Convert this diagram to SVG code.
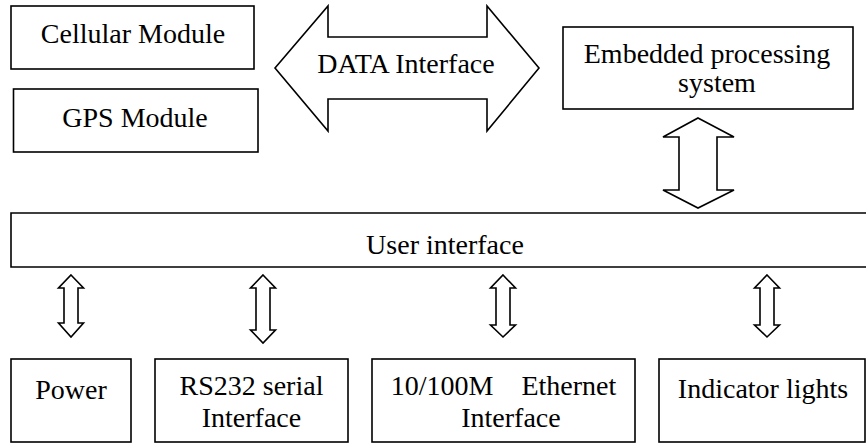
<svg xmlns="http://www.w3.org/2000/svg" width="866" height="443" viewBox="0 0 866 443">
<style>
.box{fill:#fff;stroke:#000;stroke-width:1.6}
.arr{fill:#fff;stroke:#000;stroke-width:1.6;stroke-linejoin:miter}
.t{font-family:'Liberation Serif','Times New Roman','DejaVu Serif',serif;font-size:28px;fill:#000;text-anchor:middle}
</style>
<rect width="866" height="443" fill="#fff"/>
<g id="cellular"><rect class="box" x="11" y="6" width="243" height="63"/><text class="t" x="133" y="43">Cellular Module</text></g>
<g id="gps"><rect class="box" x="13.5" y="89" width="244.5" height="63"/><text class="t" x="135" y="127">GPS Module</text></g>
<g id="embedded"><rect class="box" x="563" y="27" width="290" height="82"/><text class="t" x="707" y="63">Embedded processing</text><text class="t" x="717" y="92">system</text></g>
<g id="user-interface"><path class="box" d="M867 213 H11 V267 H867"/><text class="t" x="445" y="254">User interface</text></g>
<g id="power"><rect class="box" x="11" y="359" width="120" height="83"/><text class="t" x="71" y="399">Power</text></g>
<g id="rs232"><rect class="box" x="155" y="359" width="193" height="83"/><text class="t" x="251.5" y="395">RS232 serial</text><text class="t" x="251.5" y="427">Interface</text></g>
<g id="ethernet"><rect class="box" x="372" y="359" width="263" height="83"/><text class="t" x="503.5" y="395" xml:space="preserve">10/100M    Ethernet</text><text class="t" x="511" y="427">Interface</text></g>
<g id="indicator"><rect class="box" x="659" y="359" width="206" height="83"/><text class="t" x="763" y="398">Indicator lights</text></g>
<g id="connectors">
<g id="data-interface"><path class="arr" d="M275 68 L328 6 V37 H487 V6 L539 68 L487 131 V99 H328 V131 Z"/><text class="t" x="406" y="73">DATA Interface</text></g>
<path class="arr" d="M698 118 L734 137 H717 V190 H734 L698 208 L663 190 H679 V137 H663 Z"/>
<path class="arr" d="M71 275 L83.5 288 H78 V323 H83.5 L71 337 L58.5 323 H64 V288 H58.5 Z"/>
<path class="arr" d="M263 275 L275.5 288 H270 V330 H275.5 L263 343 L250.5 330 H256 V288 H250.5 Z"/>
<path class="arr" d="M503 275 L515.5 288 H510 V325 H515.5 L503 337 L490.5 325 H496 V288 H490.5 Z"/>
<path class="arr" d="M767 275 L779.5 288 H774 V325 H779.5 L767 337 L754.5 325 H760 V288 H754.5 Z"/>
</g>
</svg>
